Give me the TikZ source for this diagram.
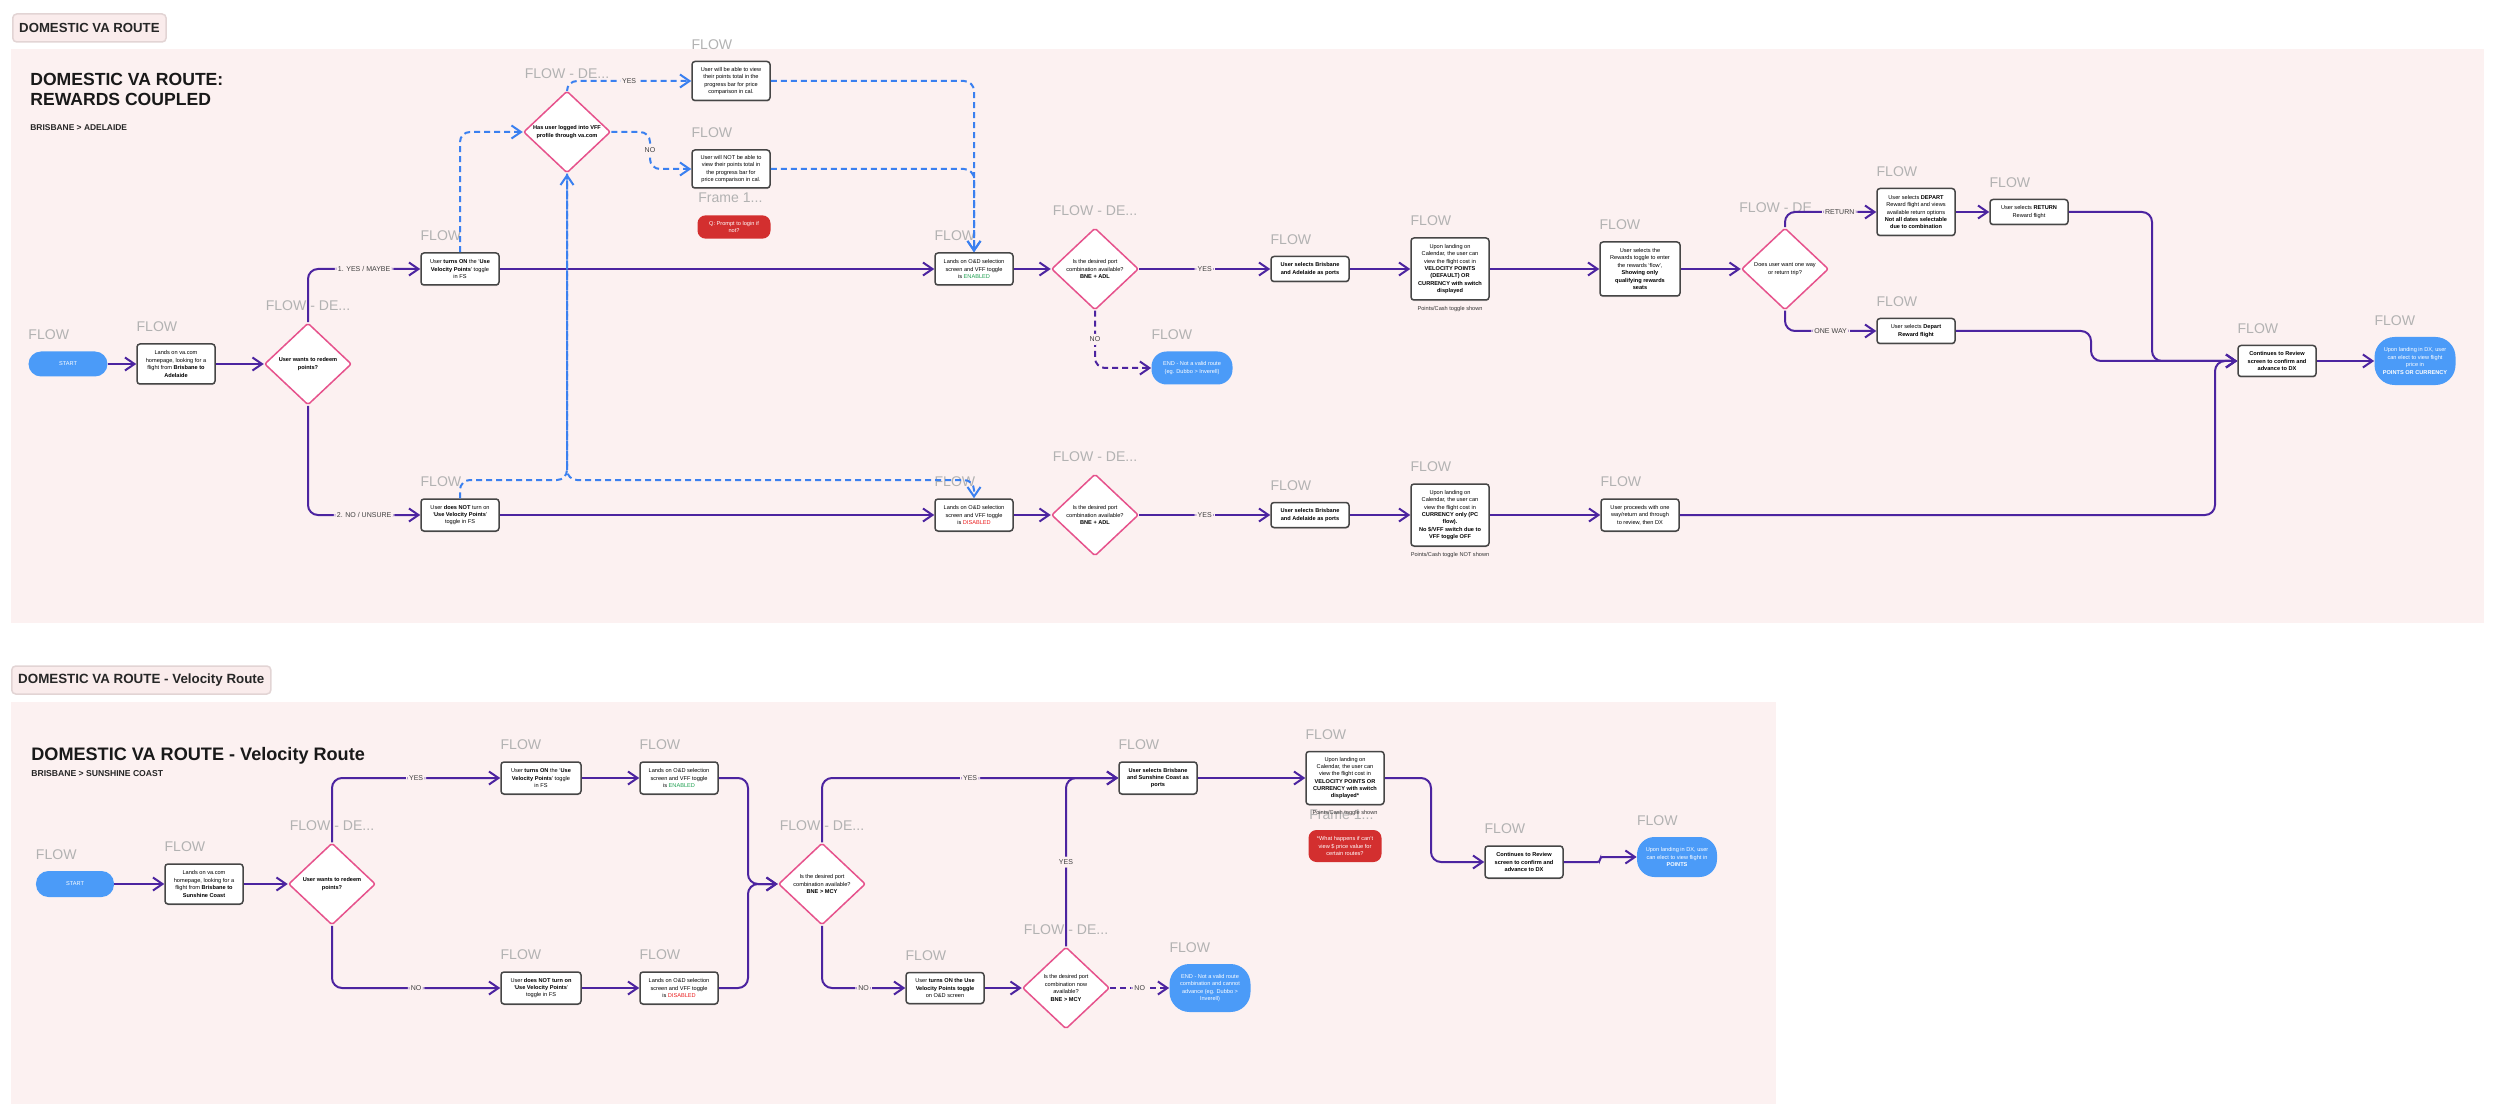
\documentclass[tikz,border=0pt]{standalone}
\usepackage{fontspec}
\setmainfont{Liberation Sans}
\usetikzlibrary{shapes.geometric,arrows.meta,positioning,calc,shadows}
\definecolor{pagepink}{RGB}{252,241,241}
\definecolor{tagpink}{RGB}{250,236,236}
\definecolor{tagline}{RGB}{226,212,212}
\definecolor{flowpurple}{RGB}{76,36,160}
\definecolor{dashblue}{RGB}{58,128,240}
\definecolor{pillblue}{RGB}{75,155,248}
\definecolor{decpink}{RGB}{230,82,140}
\definecolor{boxline}{RGB}{70,70,70}
\definecolor{labelgray}{RGB}{178,178,178}
\definecolor{qred}{RGB}{211,47,47}
\definecolor{okgreen}{RGB}{30,160,80}
\definecolor{badred}{RGB}{235,30,30}
\newcommand{\tinytext}{\fontsize{3.2}{4.2}\selectfont}

\begin{document}
\begin{tikzpicture}[
    x=0.2mm, y=-0.2mm,
    stepbox/.style={rectangle, rounded corners=0.6mm, draw=boxline, line width=0.3mm, fill=white,
                    minimum width=15.6mm, minimum height=6.4mm, align=center, font=\tinytext, inner sep=0.5mm,
                    drop shadow={shadow xshift=0mm, shadow yshift=-0.25mm, opacity=0.3}},
    decision/.style={diamond, draw=decpink, line width=0.3mm, fill=white, rounded corners=0.4mm,
                     minimum width=17.4mm, minimum height=16.4mm, inner sep=0pt, align=center, font=\tinytext},
    pill/.style={rectangle, rounded corners=2.5mm, fill=pillblue, text=white, minimum width=16mm,
                 minimum height=5mm, align=center, font=\tinytext, inner sep=0.5mm},
    question/.style={rectangle, rounded corners=1.6mm, fill=qred, text=white, minimum width=14.6mm,
                     minimum height=4.4mm, align=center, font=\tinytext},
    tagbox/.style={rectangle, rounded corners=0.8mm, fill=tagpink, draw=tagline, line width=0.3mm,
                   minimum height=5.6mm, inner xsep=1.3mm, font=\fontsize{7.5}{8}\selectfont\bfseries, text=black!85},
    heading/.style={anchor=north west, inner sep=0pt, align=left, font=\fontsize{10}{11.4}\selectfont\bfseries, text=black!90},
    subhead/.style={anchor=north west, inner sep=0pt, font=\fontsize{4.8}{5}\selectfont\bfseries, text=black!85},
    flowlbl/.style={font=\fontsize{8}{8}\selectfont, text=labelgray, inner sep=0pt},
    note/.style={font=\tinytext, inner sep=0pt, text=black!80},
    linelbl/.style={font=\fontsize{4}{4}\selectfont, text=black!75, fill=pagepink, inner sep=0.6mm},
    conn/.style={draw=flowpurple, line width=0.4mm, rounded corners=2mm,
                 -{Straight Barb[length=1.9mm,width=2.6mm]}},
    pdash/.style={conn, dash pattern=on 1.2mm off 0.8mm},
    bdash/.style={pdash, draw=dashblue}
]

\fill[white] (0,0) rectangle (2500,1116);
\useasboundingbox (0,0) rectangle (2500,1116);

% ---------------- Section 1: rewards coupled ----------------
\node[tagbox, anchor=west] (tagA) at (12,28) {DOMESTIC VA ROUTE};
\fill[pagepink] (11,49) rectangle (2484,623);
\node[heading] (titleA) at (30,73) {DOMESTIC VA ROUTE:\\REWARDS COUPLED};
\node[subhead] (subA) at (30,124) {BRISBANE > ADELAIDE};

\node[pill, minimum width=15.8mm] (startA) at (68,364) {START};
\node[stepbox, minimum height=8mm] (homeA) at (176,364) {Lands on va.com\\homepage, looking for a\\flight from \textbf{Brisbane to}\\\textbf{Adelaide}};
\node[decision] (redeemA) at (308,364) {\textbf{User wants to redeem}\\\textbf{points?}};

\node[stepbox] (onA) at (460,269) {User \textbf{turns ON} the `\textbf{Use}\\\textbf{Velocity Points}' toggle\\in FS};
\node[stepbox] (offA) at (460,515) {User \textbf{does NOT} turn on\\`\textbf{Use Velocity Points}'\\toggle in FS};

\node[decision] (vffA) at (567,132) {\textbf{Has user logged into VFF}\\\textbf{profile through va.com}};
\node[stepbox, minimum height=7.8mm] (seeA) at (731,81) {User will be able to view\\their points total in the\\progress bar for price\\comparison in cal.};
\node[stepbox, minimum height=7.6mm] (noseeA) at (731,169) {User will NOT be able to\\view their points total in\\the progress bar for\\price comparison in cal.};
\node[flowlbl, anchor=south west] (frameA) at (698,203) {Frame 1...};
\node[question] (askA) at (734,227) {Q: Prompt to login if\\not?};

\node[stepbox] (enA) at (974,269) {Lands on O\&D selection\\screen and VFF toggle\\is \textcolor{okgreen}{ENABLED}};
\node[stepbox] (disA) at (974,515) {Lands on O\&D selection\\screen and VFF toggle\\is \textcolor{badred}{DISABLED}};
\node[decision] (portA1) at (1095,269) {Is the desired port\\combination available?\\\textbf{BNE + ADL}};
\node[decision] (portA2) at (1095,515) {Is the desired port\\combination available?\\\textbf{BNE + ADL}};
\node[pill, minimum width=16.2mm, minimum height=6.6mm, rounded corners=3mm] (endA) at (1192,368) {END - Not a valid route\\(eg. Dubbo > Inverell)};

\node[stepbox, minimum height=5mm] (selA1) at (1310,269) {\textbf{User selects Brisbane}\\\textbf{and Adelaide as ports}};
\node[stepbox, minimum height=5mm] (selA2) at (1310,515) {\textbf{User selects Brisbane}\\\textbf{and Adelaide as ports}};
\node[stepbox, minimum height=12.4mm] (calA1) at (1450,269) {Upon landing on\\Calendar, the user can\\view the flight cost in\\\textbf{VELOCITY POINTS}\\\textbf{(DEFAULT) OR}\\\textbf{CURRENCY with switch}\\\textbf{displayed}};
\node[note, below=1mm of calA1] (noteA1) {Points/Cash toggle shown};
\node[stepbox, minimum height=12.4mm] (calA2) at (1450,515) {Upon landing on\\Calendar, the user can\\view the flight cost in\\\textbf{CURRENCY only (PC}\\\textbf{flow).}\\\textbf{No \$/VFF switch due to}\\\textbf{VFF toggle OFF}};
\node[note, below=1mm of calA2] (noteA2) {Points/Cash toggle NOT shown};

\node[stepbox, minimum width=16mm, minimum height=10.8mm] (rewA) at (1640,269) {User selects the\\Rewards toggle to enter\\the rewards `flow',\\\textbf{Showing only}\\\textbf{qualifying rewards}\\\textbf{seats}};
\node[stepbox] (proceedA) at (1640,515) {User proceeds with one\\way/return and through\\to review, then DX};
\node[decision] (tripA) at (1785,269) {Does user want one way\\or return trip?};
\node[stepbox, minimum height=9.4mm] (departA) at (1916,212) {User selects \textbf{DEPART}\\Reward flight and views\\available return options\\\textbf{Not all dates selectable}\\\textbf{due to combination}};
\node[stepbox, minimum height=5mm] (returnA) at (2029,212) {User selects \textbf{RETURN}\\Reward flight};
\node[stepbox, minimum height=5mm] (oneA) at (1916,331) {User selects \textbf{Depart}\\\textbf{Reward flight}};
\node[stepbox, minimum height=6.2mm] (reviewA) at (2277,361) {\textbf{Continues to Review}\\\textbf{screen to confirm and}\\\textbf{advance to DX}};
\node[pill, minimum width=16.2mm, minimum height=9.6mm, rounded corners=4mm] (dxA) at (2415,361) {Upon landing in DX, user\\can elect to view flight\\price in\\\textbf{POINTS OR CURRENCY}};

% ---------------- Section 2: velocity route ----------------
\node[tagbox, anchor=west, font=\fontsize{7.6}{8}\selectfont\bfseries] (tagB) at (11,680) {DOMESTIC VA ROUTE - Velocity Route};
\fill[pagepink] (11,702) rectangle (1776,1104);
\node[heading, font=\fontsize{10.3}{11}\selectfont\bfseries] (titleB) at (31,747) {DOMESTIC VA ROUTE - Velocity Route};
\node[subhead, font=\fontsize{4.9}{5}\selectfont\bfseries] (subB) at (31,770) {BRISBANE > SUNSHINE COAST};

\node[pill, minimum width=15.6mm, minimum height=5.2mm] (startB) at (75,884) {START};
\node[stepbox, minimum height=8mm] (homeB) at (204,884) {Lands on va.com\\homepage, looking for a\\flight from \textbf{Brisbane to}\\\textbf{Sunshine Coast}};
\node[decision] (redeemB) at (332,884) {\textbf{User wants to redeem}\\\textbf{points?}};
\node[stepbox, minimum width=16mm] (onB) at (541,778) {User \textbf{turns ON} the `\textbf{Use}\\\textbf{Velocity Points}' toggle\\in FS};
\node[stepbox] (enB) at (679,778) {Lands on O\&D selection\\screen and VFF toggle\\is \textcolor{okgreen}{ENABLED}};
\node[stepbox, minimum width=16mm] (offB) at (541,988) {User \textbf{does NOT turn on}\\`\textbf{Use Velocity Points}'\\toggle in FS};
\node[stepbox] (disB) at (679,988) {Lands on O\&D selection\\screen and VFF toggle\\is \textcolor{badred}{DISABLED}};
\node[decision] (portB) at (822,884) {Is the desired port\\combination available?\\\textbf{BNE > MCY}};
\node[stepbox, minimum height=6.4mm] (selB) at (1158,778) {\textbf{User selects Brisbane}\\\textbf{and Sunshine Coast as}\\\textbf{ports}};
\node[stepbox, minimum height=6.2mm] (lateB) at (945,988) {User \textbf{turns ON the Use}\\\textbf{Velocity Points toggle}\\on O\&D screen};
\node[decision] (portB2) at (1066,988) {Is the desired port\\combination now\\available?\\\textbf{BNE > MCY}};
\node[pill, minimum width=16.2mm, minimum height=9.6mm, rounded corners=4mm] (endB) at (1210,988) {END - Not a valid route\\combination and cannot\\advance (eg. Dubbo >\\Inverell)};
\node[stepbox, minimum height=10.6mm] (calB) at (1345,778) {Upon landing on\\Calendar, the user can\\view the flight cost in\\\textbf{VELOCITY POINTS OR}\\\textbf{CURRENCY with switch}\\\textbf{displayed*}};
\node[flowlbl, anchor=south west] (frameB) at (1309,820) {Frame 1...};
\node[note, below=1mm of calB] (noteB) {Points/Cash toggle shown};
\node[question, minimum height=6.4mm] (askB) at (1345,846) {*What happens if can't\\view \$ price value for\\certain routes?};
\node[stepbox] (reviewB) at (1524,862) {\textbf{Continues to Review}\\\textbf{screen to confirm and}\\\textbf{advance to DX}};
\node[pill, minimum width=16mm, minimum height=8mm, rounded corners=3.5mm] (dxB) at (1677,857) {Upon landing in DX, user\\can elect to view flight in\\\textbf{POINTS}};

% FLOW labels
\foreach \n in {startA,homeA,onA,offA,seeA,noseeA,enA,disA,selA1,selA2,calA1,calA2,endA,rewA,proceedA,
                departA,returnA,oneA,reviewA,dxA,startB,homeB,onB,offB,enB,disB,selB,lateB,endB,calB,reviewB,dxB}
  \node[flowlbl, above right=2.2mm and 0mm of \n.north west] {FLOW};
\foreach \n in {redeemA,vffA,portA1,portA2,redeemB,portB,portB2}
  \node[flowlbl, above=2.2mm of \n.north] {FLOW - DE...};
\node[flowlbl, anchor=south west] at (1739,213) {FLOW - DE};

% Connectors, section 1
\draw[conn] (startA) -- (homeA);
\draw[conn] (homeA) -- (redeemA);
\draw[conn] (redeemA.north) |- node[linelbl, pos=0.75] {1. YES / MAYBE} (onA.west);
\draw[conn] (redeemA.south) |- node[linelbl, pos=0.75] {2. NO / UNSURE} (offA.west);
\draw[conn] (onA) -- (enA);
\draw[conn] (offA) -- (disA);
\draw[conn] (enA) -- (portA1);
\draw[conn] (disA) -- (portA2);
\draw[conn] (portA1) -- node[linelbl] {YES} (selA1);
\draw[conn] (portA2) -- node[linelbl] {YES} (selA2);
\draw[pdash] (portA1.south) |- node[linelbl, pos=0.25] {NO} (endA.west);
\draw[conn] (selA1) -- (calA1);
\draw[conn] (selA2) -- (calA2);
\draw[conn] (calA1) -- (rewA);
\draw[conn] (calA2) -- (proceedA);
\draw[conn] (rewA) -- (tripA);
\draw[conn] (tripA.north) |- node[linelbl, pos=0.8] {RETURN} (departA.west);
\draw[conn] (tripA.south) |- node[linelbl, pos=0.75] {ONE WAY} (oneA.west);
\draw[conn] (departA) -- (returnA);
\draw[conn] (returnA.east) -- (2152,212) -- (2152,361) -- (reviewA.west);
\draw[conn] (oneA.east) -- (2091,331) -- (2091,361) -- (reviewA.west);
\draw[conn] (proceedA.east) -- (2215,515) -- (2215,361) -- (reviewA.west);
\draw[conn] (reviewA) -- (dxA);

% login check (dashed)
\draw[bdash] (onA.north) |- (vffA.west);
\draw[bdash] (vffA.north) |- node[linelbl, pos=0.75] {YES} (seeA.west);
\draw[bdash] (vffA.east) -- (650,132) -- node[linelbl] {NO} (650,169) -- (noseeA.west);
\draw[bdash] (seeA.east) -| (enA.north);
\draw[bdash] (noseeA.east) -| (enA.north);
\draw[bdash] (offA.north) |- (567,480) -- (vffA.south);
\draw[bdash] (vffA.south) -- (567,480) -| (disA.north);

% Connectors, section 2
\draw[conn] (startB) -- (homeB);
\draw[conn] (homeB) -- (redeemB);
\draw[conn] (redeemB.north) |- node[linelbl, pos=0.75] {YES} (onB.west);
\draw[conn] (redeemB.south) |- node[linelbl, pos=0.75] {NO} (offB.west);
\draw[conn] (onB) -- (enB);
\draw[conn] (offB) -- (disB);
\draw[conn] (enB.east) -- (748,778) -- (748,884) -- (portB.west);
\draw[conn] (disB.east) -- (748,988) -- (748,884) -- (portB.west);
\draw[conn] (portB.north) |- node[linelbl, pos=0.75] {YES} (selB.west);
\draw[conn] (portB.south) |- node[linelbl, pos=0.75] {NO} (lateB.west);
\draw[conn] (lateB) -- (portB2);
\draw[conn] (portB2.north) |- node[linelbl, pos=0.25] {YES} (selB.west);
\draw[pdash] (portB2) -- node[linelbl] {NO} (endB);
\draw[conn] (selB) -- (calB);
\draw[conn] (calB.east) -- (1431,778) -- (1431,862) -- (reviewB.west);
\draw[conn, rounded corners=0.5mm] (reviewB.east) -- (1600,862) |- (dxB.west);

\end{tikzpicture}
\end{document}
